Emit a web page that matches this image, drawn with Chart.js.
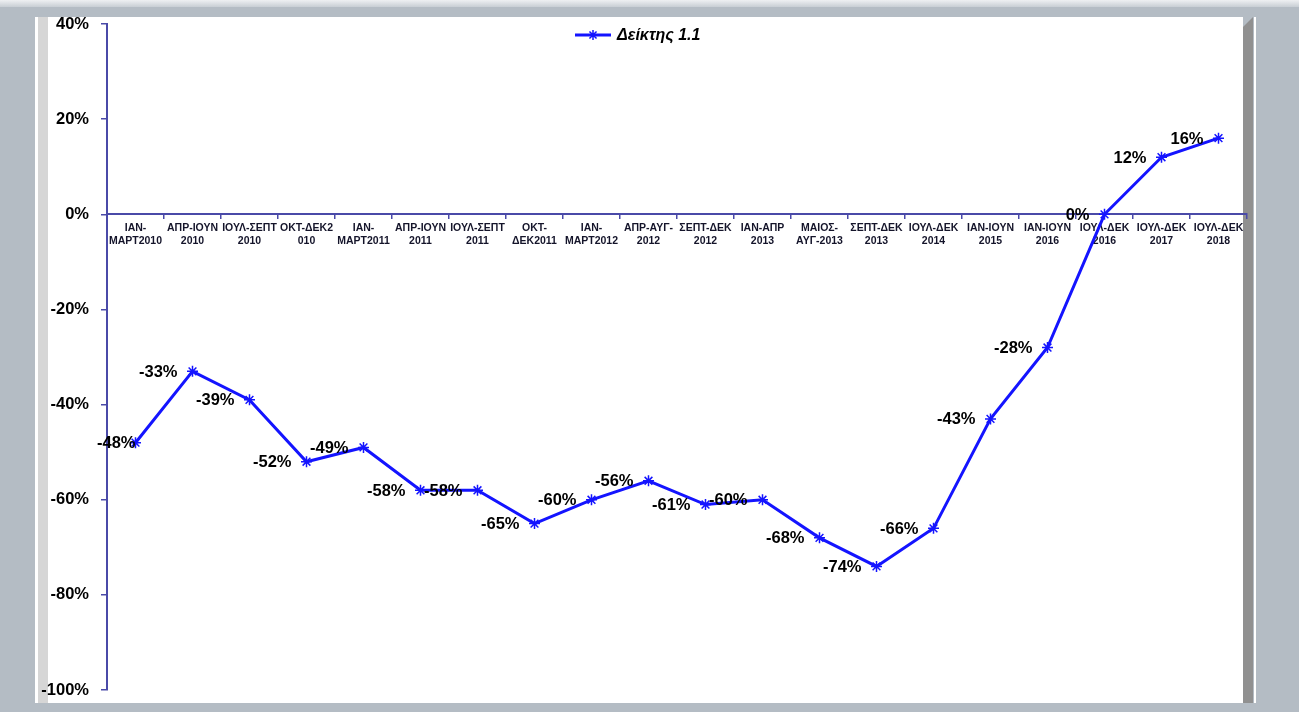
<!DOCTYPE html>
<html>
<head>
  <title>Δείκτης 1.1</title>
  <script src="https://cdn.jsdelivr.net/npm/chart.js"></script>
  <style>
    html, body {
      margin: 0;
      padding: 0;
      width: 1299px;
      height: 712px;
      overflow: hidden;
      background: #b4bcc4;
    }
    .topglow {
      position: absolute; left: 0; top: 0; width: 1299px; height: 7px;
      background: linear-gradient(#eef0f2, #c8ced4);
    }
    .panel {
      position: absolute; left: 35px; top: 17px; width: 1208px; height: 686px;
      background: #ffffff;
    }
    .wall {
      position: absolute; left: 38px; top: 17px; width: 10px; height: 686px;
      background: #d6d6d6;
    }
    .side {
      position: absolute; left: 1243px; top: 27px; width: 10px; height: 676px;
      background: #909090;
    }
    .sidecap {
      position: absolute; left: 1243px; top: 17px; width: 0; height: 0;
      border-left: 10px solid transparent;
      border-bottom: 10px solid #909090;
    }
    .edge {
      position: absolute; left: 1254px; top: 17px; width: 2px; height: 686px;
      background: #ffffff;
    }
    #wrap {
      position: absolute; left: 0; top: 0; width: 1299px; height: 712px;
    }
  </style>
</head>
<body>
  <div class="topglow"></div>
  <div class="panel"></div>
  <div class="wall"></div>
  <div class="sidecap"></div>
  <div class="side"></div>
  <div class="edge"></div>
  <div id="wrap">
    <canvas id="chart"></canvas>
  </div>

  <script>
    const periods = [
      ['ΙΑΝ-', 'ΜΑΡΤ2010'],
      ['ΑΠΡ-ΙΟΥΝ', '2010'],
      ['ΙΟΥΛ-ΣΕΠΤ', '2010'],
      ['ΟΚΤ-ΔΕΚ2', '010'],
      ['ΙΑΝ-', 'ΜΑΡΤ2011'],
      ['ΑΠΡ-ΙΟΥΝ', '2011'],
      ['ΙΟΥΛ-ΣΕΠΤ', '2011'],
      ['ΟΚΤ-', 'ΔΕΚ2011'],
      ['ΙΑΝ-', 'ΜΑΡΤ2012'],
      ['ΑΠΡ-ΑΥΓ-', '2012'],
      ['ΣΕΠΤ-ΔΕΚ', '2012'],
      ['ΙΑΝ-ΑΠΡ', '2013'],
      ['ΜΑΙΟΣ-', 'ΑΥΓ-2013'],
      ['ΣΕΠΤ-ΔΕΚ', '2013'],
      ['ΙΟΥΛ-ΔΕΚ', '2014'],
      ['ΙΑΝ-ΙΟΥΝ', '2015'],
      ['ΙΑΝ-ΙΟΥΝ', '2016'],
      ['ΙΟΥΛ-ΔΕΚ', '2016'],
      ['ΙΟΥΛ-ΔΕΚ', '2017'],
      ['ΙΟΥΛ-ΔΕΚ', '2018']
    ];
    const indexValues = [-48, -33, -39, -52, -49, -58, -58, -65, -60, -56,
                         -61, -60, -68, -74, -66, -43, -28, 0, 12, 16];
    const seriesName = 'Δείκτης 1.1';
    const yMin = -100;
    const yMax = 40;
    const yStep = 20;

    const blue = '#1414ff';
    const axisColor = '#4a4aa8';
    const fontFamily = '"Liberation Sans", Arial, sans-serif';

    // little asterisk, same as the line markers
    function drawStar(ctx, x, y, r) {
      ctx.beginPath();
      ctx.moveTo(x, y - r); ctx.lineTo(x, y + r);
      ctx.moveTo(x - r, y); ctx.lineTo(x + r, y);
      const d = r * 0.7071;
      ctx.moveTo(x - d, y - d); ctx.lineTo(x + d, y + d);
      ctx.moveTo(x - d, y + d); ctx.lineTo(x + d, y - d);
      ctx.stroke();
    }

    // percentage labels to the left of every point
    const pointLabels = {
      id: 'pointLabels',
      afterDatasetsDraw(chart) {
        const ctx = chart.ctx;
        const meta = chart.getDatasetMeta(0);
        ctx.save();
        ctx.font = 'bold 16.5px ' + fontFamily;
        ctx.fillStyle = '#000000';
        ctx.textAlign = 'right';
        ctx.textBaseline = 'middle';
        meta.data.forEach(function(pt, i) {
          const text = indexValues[i] + '%';
          const w = ctx.measureText(text).width;
          const x = Math.max(pt.x - 15, chart.chartArea.left - 10 + w);
          ctx.fillText(text, x, pt.y + 1);
        });
        ctx.restore();
      }
    };

    // legend drawn inside the plot, like the original
    const innerLegend = {
      id: 'innerLegend',
      afterDraw(chart) {
        const ctx = chart.ctx;
        const x0 = 575, x1 = 611, y = 35;
        ctx.save();
        ctx.strokeStyle = blue;
        ctx.lineWidth = 3;
        ctx.beginPath();
        ctx.moveTo(x0, y);
        ctx.lineTo(x1, y);
        ctx.stroke();
        ctx.lineWidth = 1.5;
        drawStar(ctx, (x0 + x1) / 2, y, 5);
        ctx.font = 'italic bold 16px ' + fontFamily;
        ctx.fillStyle = '#000000';
        ctx.textAlign = 'left';
        ctx.textBaseline = 'middle';
        ctx.fillText(seriesName, x1 + 6, y + 1);
        ctx.restore();
      }
    };

    new Chart(document.getElementById('chart').getContext('2d'), {
      type: 'line',
      data: {
        labels: periods,
        datasets: [{
          label: seriesName,
          data: indexValues,
          borderColor: blue,
          backgroundColor: blue,
          borderWidth: 3,
          tension: 0,
          pointStyle: 'star',
          pointRadius: 5.5,
          pointHoverRadius: 5.5,
          pointBorderColor: blue,
          pointBorderWidth: 1.5
        }]
      },
      options: {
        responsive: true,
        maintainAspectRatio: false,
        animation: false,
        layout: {
          padding: { left: 0, right: 52, top: 24, bottom: 21 }
        },
        plugins: {
          legend: { display: false },
          tooltip: { enabled: false }
        },
        scales: {
          x: {
            position: { y: 0 },
            offset: true,
            border: { display: true, color: axisColor, width: 2 },
            grid: {
              display: true,
              offset: true,
              drawOnChartArea: false,
              drawTicks: true,
              tickLength: 4,
              color: axisColor,
              lineWidth: 1.5
            },
            ticks: {
              autoSkip: false,
              maxRotation: 0,
              minRotation: 0,
              padding: 3,
              color: '#14142a',
              font: { family: fontFamily, size: 10.5, weight: 'bold', lineHeight: 1.25 }
            }
          },
          y: {
            min: yMin,
            max: yMax,
            afterFit(scale) { scale.width = 107; },
            border: { display: true, color: axisColor, width: 2 },
            grid: {
              display: true,
              drawOnChartArea: false,
              drawTicks: true,
              tickLength: 6,
              color: axisColor,
              lineWidth: 1.5
            },
            ticks: {
              stepSize: yStep,
              padding: 12,
              color: '#000000',
              font: { family: fontFamily, size: 16.5, weight: 'bold' },
              callback: function(v) { return v + '%'; }
            }
          }
        }
      },
      plugins: [pointLabels, innerLegend]
    });
  </script>
</body>
</html>
